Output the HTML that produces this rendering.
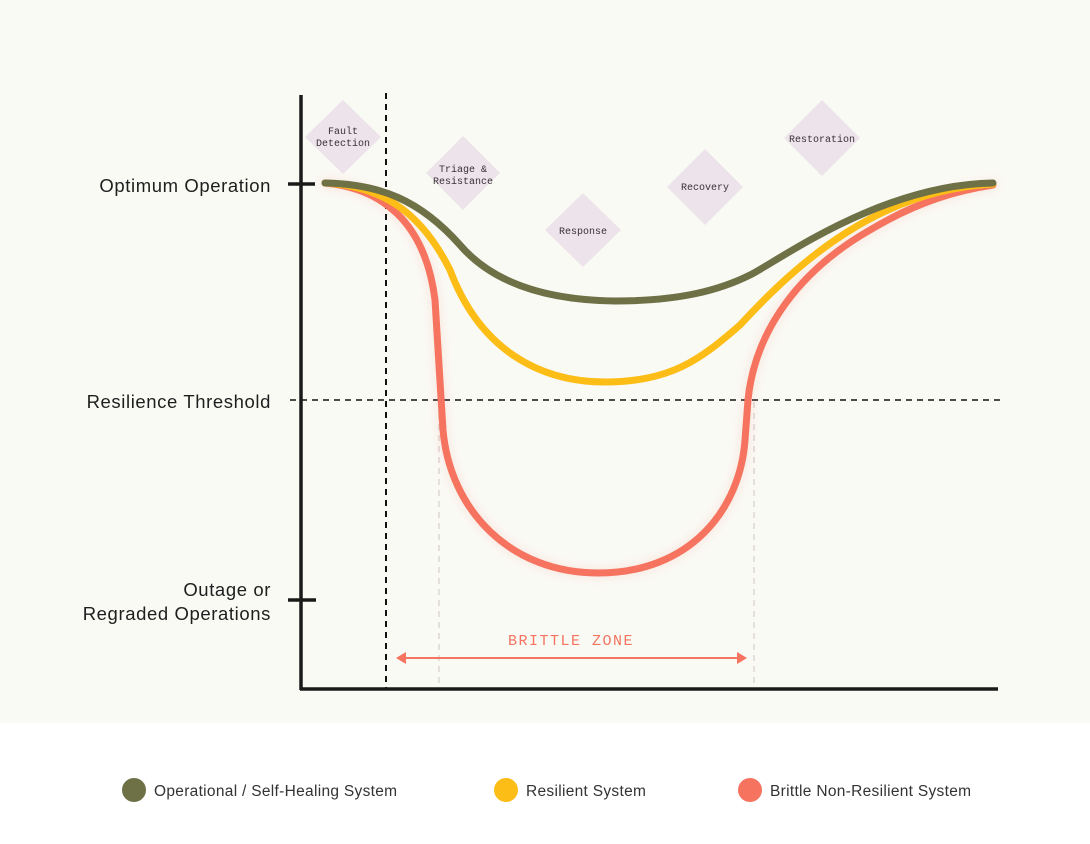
<!DOCTYPE html>
<html><head><meta charset="utf-8"><style>
html,body{margin:0;padding:0;background:#fff;}
svg{display:block;}
</style></head><body>
<svg width="1090" height="844" viewBox="0 0 1090 844" xmlns="http://www.w3.org/2000/svg">
<defs>
<filter id="glow" x="-20%" y="-20%" width="140%" height="140%"><feGaussianBlur stdDeviation="5"/></filter>
</defs>
<rect x="0" y="0" width="1090" height="723" fill="#fafaf5"/>
<rect x="0" y="723" width="1090" height="121" fill="#ffffff"/>

<g fill="#ede3ea">
<polygon points="343,100 381,137 343,174 305,137"/>
<polygon points="463,136 500,173 463,210 426,173"/>
<polygon points="583,193 621,230 583,267 545,230"/>
<polygon points="705,149 743,187 705,225 667,187"/>
<polygon points="822,100 860,138 822,176 784,138"/>
</g>
<g font-family="Liberation Mono, monospace" font-size="10" fill="#3a2f35" text-anchor="middle">
<text x="343" y="134">Fault</text><text x="343" y="146">Detection</text>
<text x="463" y="172">Triage &amp;</text><text x="463" y="184">Resistance</text>
<text x="583" y="234">Response</text>
<text x="705" y="190">Recovery</text>
<text x="822" y="142">Restoration</text>
</g>

<line x1="386" y1="93" x2="386" y2="690" stroke="#111" stroke-width="2" stroke-dasharray="6,5"/>
<line x1="290" y1="400" x2="1000" y2="400" stroke="#111" stroke-width="1.5" stroke-dasharray="6,5"/>
<line x1="439" y1="402" x2="439" y2="688" stroke="#ddd4d4" stroke-width="1.5" stroke-dasharray="6,5"/>
<line x1="754" y1="402" x2="754" y2="688" stroke="#ddd4d4" stroke-width="1.5" stroke-dasharray="6,5"/>

<g fill="none" stroke-width="7" stroke-linecap="round">
<path d="M325,183 C380,188 425,220 435,300 L443,430 C450,510 510,573 598,573 C690,573 740,510 745,440 L748,400 C755,330 800,270 870,230 C920,200 960,190 993,185" stroke="#f5735f" opacity="0.12" stroke-width="12" filter="url(#glow)"/>
<path d="M325,183 C380,188 425,220 435,300 L443,430 C450,510 510,573 598,573 C690,573 740,510 745,440 L748,400 C755,330 800,270 870,230 C920,200 960,190 993,185" stroke="#f5735f"/>
<path d="M325,183 C380,186 420,210 450,270 C480,350 540,382 605,382 C670,382 700,360 740,325 C800,260 880,190 993,184" stroke="#fcbd16"/>
<path d="M325,183 C380,184 420,200 460,245 C490,280 540,300 615,301 C680,301 720,290 750,275 C780,260 880,185 993,183" stroke="#6e7046"/>
</g>

<line x1="301" y1="95" x2="301" y2="690" stroke="#1a1a1a" stroke-width="3.5"/>
<line x1="300" y1="689" x2="998" y2="689" stroke="#1a1a1a" stroke-width="3.5"/>
<line x1="288" y1="184" x2="315" y2="184" stroke="#1a1a1a" stroke-width="3.5"/>
<line x1="288" y1="600" x2="316" y2="600" stroke="#1a1a1a" stroke-width="3.5"/>

<line x1="404" y1="658" x2="739" y2="658" stroke="#f5735f" stroke-width="2"/>
<polygon points="396,658 406,652 406,664" fill="#f5735f"/>
<polygon points="747,658 737,652 737,664" fill="#f5735f"/>
<text x="571" y="645" font-family="Liberation Mono, monospace" font-size="15" letter-spacing="1.5" fill="#f5735f" text-anchor="middle">BRITTLE ZONE</text>

<g font-family="Liberation Sans, sans-serif" font-size="18.5" letter-spacing="0.6" fill="#1e1e1e" text-anchor="end">
<text x="271" y="192">Optimum Operation</text>
<text x="271" y="408">Resilience Threshold</text>
<text x="271" y="596">Outage or</text>
<text x="271" y="620">Regraded Operations</text>
</g>

<circle cx="134" cy="790" r="12" fill="#6e7046"/>
<circle cx="506" cy="790" r="12" fill="#fcbd16"/>
<circle cx="750" cy="790" r="12" fill="#f5735f"/>
<g font-family="Liberation Sans, sans-serif" font-size="15.5" letter-spacing="0.3" fill="#333">
<text x="154" y="796">Operational / Self-Healing System</text>
<text x="526" y="796">Resilient System</text>
<text x="770" y="796">Brittle Non-Resilient System</text>
</g>
</svg>
</body></html>
